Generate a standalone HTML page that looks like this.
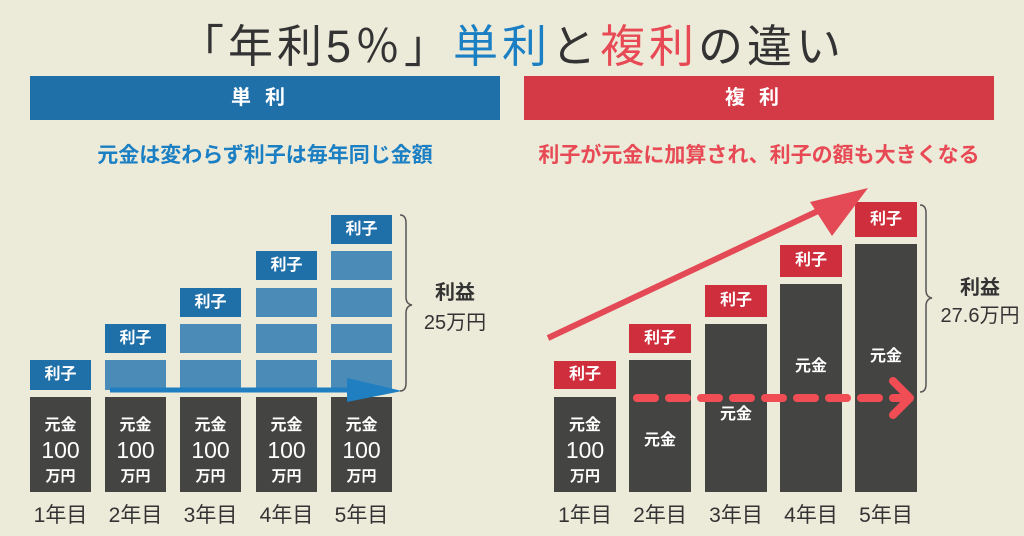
<!DOCTYPE html>
<html><head><meta charset="utf-8"><style>
body{margin:0;width:1024px;height:536px;background:#ecead9;position:relative;overflow:hidden;font-family:"Liberation Sans","Noto Sans CJK JP",sans-serif;font-weight:bold}
.a{position:absolute}
.t{text-align:center;color:#fff}
.dk{background:#444443}
.bl{background:#1f6fa8}
.lb{background:#4a8bb8}
.rd{background:#cf2f3c}
.yr{font-size:21px;color:#333;font-weight:normal}
</style></head><body>
<div class="a" style="left:0;width:1024px;top:10px;text-align:center;font-size:45px;color:#333;letter-spacing:4px;font-weight:normal;white-space:nowrap">「年利5％」<span style="color:#1b7fc4">単利</span>と<span style="color:#e84a55">複利</span>の違い</div>
<div class="a t bl" style="left:30px;top:76px;width:470px;height:44px;line-height:44px;font-size:20px;letter-spacing:14px">単利</div>
<div class="a t rd" style="left:524px;top:76px;width:470px;height:44px;line-height:44px;font-size:20px;letter-spacing:14px;background:#d33a45">複利</div>
<div class="a" style="left:30px;width:470px;top:139px;text-align:center;font-size:21px;color:#1b7fc4;white-space:nowrap">元金は変わらず利子は毎年同じ金額</div>
<div class="a" style="left:504px;width:510px;top:139px;text-align:center;font-size:21px;color:#e84a55;white-space:nowrap">利子が元金に加算され、利子の額も大きくなる</div>

<div id="L"></div>
<svg class="a" style="left:0;top:0" width="1024" height="536">
<path d="M400,215 q6,0 6,8 v74 q0,7 6,8 q-6,1 -6,8 v70 q0,8 -6,8" fill="none" stroke="#555" stroke-width="1.5"/>
<path d="M920,205 q6,0 6,8 v77 q0,7 6,8 q-6,1 -6,8 v78 q0,8 -6,8" fill="none" stroke="#555" stroke-width="1.5"/>
</svg>
<div class="a" style="left:415px;top:278px;width:80px;text-align:center;font-size:20px;color:#333;line-height:30px;white-space:nowrap">利益<br><span style="font-weight:normal">25万円</span></div>
<div class="a" style="left:935px;top:274px;width:90px;text-align:center;font-size:20px;color:#333;line-height:28px;white-space:nowrap">利益<br><span style="font-weight:normal">27.6万円</span></div>

<script>
let h='';
const lx=[30,105,180,256,331];
const rows=[360,324,288,251,215];
const gold=(w)=>`<div style="font-size:16px;margin-top:14px">元金</div><div style="font-size:23px;font-weight:normal;line-height:30px">100</div><div style="font-size:15px">万円</div>`;
lx.forEach((x,i)=>{
 for(let r=0;r<=i;r++){
  const top=rows[r], hh=r==0?30:29;
  if(r==i) h+=`<div class="a t bl" style="left:${x}px;top:${top}px;width:61px;height:${hh}px;line-height:${hh}px;font-size:16px">利子</div>`;
  else h+=`<div class="a lb" style="left:${x}px;top:${top}px;width:61px;height:${hh}px"></div>`;
 }
 h+=`<div class="a t dk" style="left:${x}px;top:397px;width:61px;height:95px">${gold()}</div>`;
 h+=`<div class="a yr" style="left:${x-10}px;top:499px;width:81px;text-align:center">${i+1}年目</div>`;
});
const rx=[554,629,705,780,855];
const dt=[397,360,324,284,244];
const lt=[361,324,285,245,202];
const lh=[28,29,32,32,35];
const tx=[0,436,410,362,352];
rx.forEach((x,i)=>{
 h+=`<div class="a t rd" style="left:${x}px;top:${lt[i]}px;width:62px;height:${lh[i]}px;line-height:${lh[i]}px;font-size:16px">利子</div>`;
 if(i==0) h+=`<div class="a t dk" style="left:${x}px;top:397px;width:62px;height:95px">${gold()}</div>`;
 else h+=`<div class="a dk" style="left:${x}px;top:${dt[i]}px;width:62px;height:${492-dt[i]}px"></div><div class="a t" style="left:${x}px;top:${tx[i]-10}px;width:62px;font-size:16px">元金</div>`;
 h+=`<div class="a yr" style="left:${x-10}px;top:499px;width:82px;text-align:center">${i+1}年目</div>`;
});
h+=`<svg class="a" style="left:0;top:0" width="1024" height="536">
<line x1="110" y1="390" x2="352" y2="390" stroke="#1f7fc0" stroke-width="5"/>
<polygon points="347,378 402,391 347,402" fill="#1f7fc0"/>
<line x1="548" y1="338" x2="835" y2="203" stroke="#e44a55" stroke-width="6"/>
<polygon points="810,202 868,188 832,236" fill="#e44a55"/>
<line x1="637" y1="398" x2="900" y2="398" stroke="#f04d55" stroke-width="8" stroke-linecap="round" stroke-dasharray="18,14"/>
<polyline points="893,381 910,398 893,415" fill="none" stroke="#f04d55" stroke-width="8" stroke-linecap="round" stroke-linejoin="round"/>
</svg>`;
document.getElementById('L').innerHTML=h;
</script>
</body></html>
